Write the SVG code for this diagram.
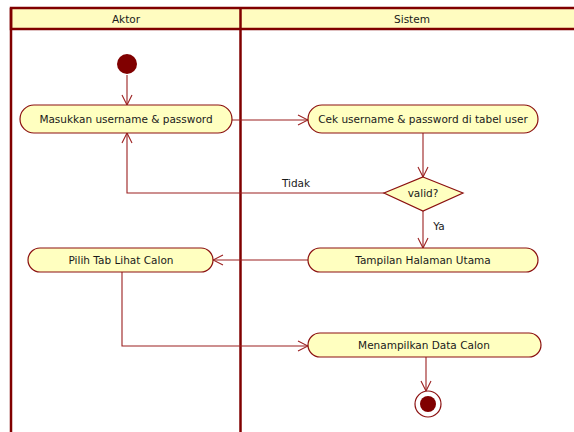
<svg xmlns="http://www.w3.org/2000/svg" width="574" height="432" viewBox="0 0 574 432">
  <style>
    .frame { fill: none; stroke: #800000; stroke-width: 2.5; }
    .head { fill: #fffcc0; stroke: #800000; stroke-width: 2.5; }
    .node { fill: #ffffc0; stroke: #8b1010; stroke-width: 1.2; }
    .edge { fill: none; stroke: #9b2020; stroke-width: 1.1; }
    .label { font-family: "DejaVu Sans", Verdana, sans-serif; font-size: 10.5px; fill: #1a1a1a; text-anchor: middle; dominant-baseline: central; }
    .dot { fill: #800000; }
  </style>
  <defs>
    <marker id="open" viewBox="0 0 12 12" refX="11" refY="6" markerWidth="12" markerHeight="12" markerUnits="userSpaceOnUse" orient="auto">
      <path d="M1,1 L11,6 L1,11" fill="none" stroke="#9b2020" stroke-width="1.1"/>
    </marker>
  </defs>

  <rect width="574" height="432" fill="#ffffff"/>

  <!-- swimlanes -->
  <g id="lanes">
    <rect class="head" x="11" y="8" width="570" height="21"/>
    <line class="frame" x1="11" y1="8" x2="11" y2="440"/>
    <line class="frame" x1="240.5" y1="8" x2="240.5" y2="440"/>
    <text class="label" x="126" y="19">Aktor</text>
    <text class="label" x="412" y="19">Sistem</text>
  </g>

  <!-- connectors -->
  <g id="connectors">
    <path class="edge" d="M127,75 L127,105" marker-end="url(#open)"/>
    <path class="edge" d="M232,120 L308,120" marker-end="url(#open)"/>
    <path class="edge" d="M423,133 L423,177" marker-end="url(#open)"/>
    <path class="edge" d="M384,193 L127,193 L127,133" marker-end="url(#open)"/>
    <text class="label" x="296" y="183">Tidak</text>
    <path class="edge" d="M423,211 L423,248" marker-end="url(#open)"/>
    <text class="label" x="439" y="226">Ya</text>
    <path class="edge" d="M308,260 L213,260" marker-end="url(#open)"/>
    <path class="edge" d="M122,272 L122,346 L308,346" marker-end="url(#open)"/>
    <path class="edge" d="M426,357 L426,391" marker-end="url(#open)"/>
  </g>

  <g id="start">
    <circle class="dot" cx="127" cy="64" r="10"/>
  </g>

  <g id="masukkan">
    <rect class="node" x="20" y="105" width="212" height="28" rx="14"/>
    <text class="label" x="126" y="119">Masukkan username &amp; password</text>
  </g>

  <g id="cek">
    <rect class="node" x="308" y="105" width="230" height="28" rx="14"/>
    <text class="label" x="423" y="119">Cek username &amp; password di tabel user</text>
  </g>

  <g id="valid">
    <polygon class="node" points="423,177 463,193 423,211 384,193"/>
    <text class="label" x="423" y="193">valid?</text>
  </g>

  <g id="tampilan">
    <rect class="node" x="308" y="248" width="230" height="24" rx="12"/>
    <text class="label" x="423" y="260">Tampilan Halaman Utama</text>
  </g>

  <g id="pilih">
    <rect class="node" x="28" y="248" width="185" height="24" rx="12"/>
    <text class="label" x="121" y="260">Pilih Tab Lihat Calon</text>
  </g>

  <g id="menampilkan">
    <rect class="node" x="308" y="333" width="233" height="24" rx="12"/>
    <text class="label" x="424" y="345">Menampilkan Data Calon</text>
  </g>

  <g id="end">
    <circle cx="428" cy="404" r="13" fill="#ffffff" stroke="#8b1010" stroke-width="1.2"/>
    <circle class="dot" cx="428" cy="404" r="8"/>
  </g>
</svg>
